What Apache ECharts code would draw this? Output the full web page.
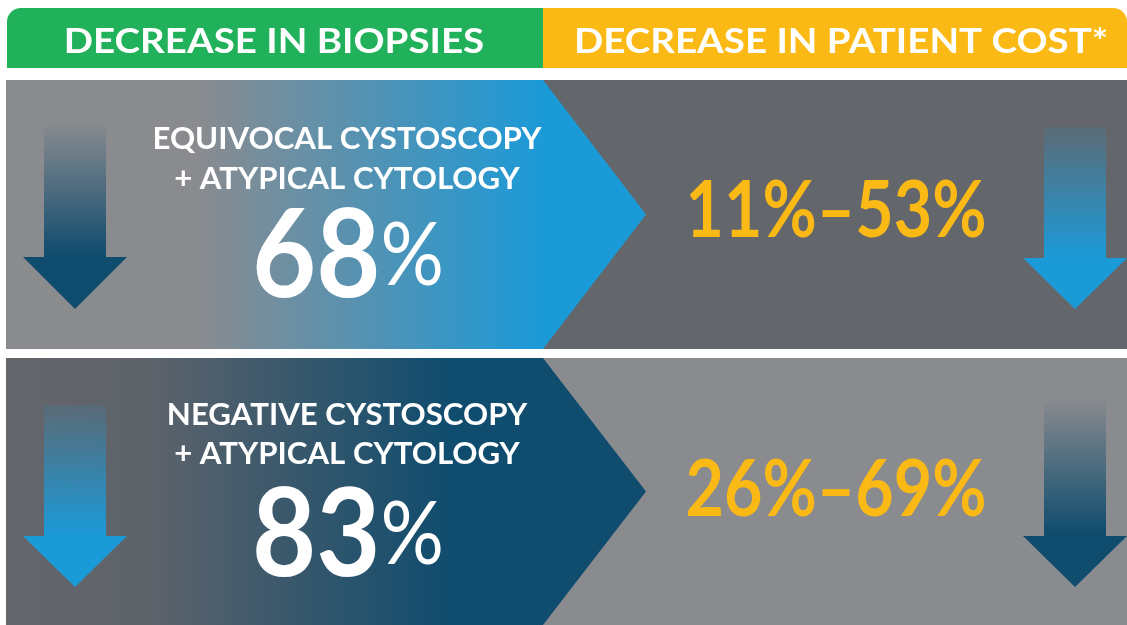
<!DOCTYPE html>
<html><head><meta charset="utf-8">
<script src="https://cdn.jsdelivr.net/npm/echarts@6/dist/echarts.min.js"></script>
<style>html,body{margin:0;padding:0;background:#fff}#c{width:1127px;height:625px}</style>
</head><body><div id="c"></div>
<script>
const headers = ['DECREASE IN BIOPSIES', 'DECREASE IN PATIENT COST*'];
const rowLine1 = ['EQUIVOCAL CYSTOSCOPY', 'NEGATIVE CYSTOSCOPY'];
const rowLine2 = ['+ ATYPICAL CYTOLOGY', '+ ATYPICAL CYTOLOGY'];
const biopsyDecrease = [68, 83];
const costLow = [11, 26];
const costHigh = [53, 69];

const FONT = 'Lato, "Open Sans", sans-serif';
const WHITE = '#ffffff', YELLOW = '#fbb916', GREEN = '#20b15a';
const NAVY = '#0f4c6e', BLUE = '#1b9ad8', LGRAY = '#8a8b8f', DGRAY = '#63666b';

function hgrad(stops){return {type:'linear',x:0,y:0,x2:1,y2:0,colorStops:stops.map(s=>({offset:s[0],color:s[1]}))};}
function vgrad(stops){return {type:'linear',x:0,y:0,x2:0,y2:1,colorStops:stops.map(s=>({offset:s[0],color:s[1]}))};}

function arrow(cx, top, headY, tip, color, topColor){
  return {type:'polygon', shape:{points:[[cx-31,top],[cx+31,top],[cx+31,headY],[cx+52,headY],[cx,tip],[cx-52,headY],[cx-31,headY]]},
    style:{fill: vgrad([[0,topColor],[0.72,color],[1,color]])}};
}

const rows = [
  {top:80, bot:349, leftFill:hgrad([[0,LGRAY],[0.3,LGRAY],[0.84,BLUE],[1,BLUE]]), rightBg:DGRAY,
   la:[75,122,257,309,NAVY,'rgba(15,76,110,0)'], ra:[1075,127,258,309,BLUE,'rgba(27,154,216,0.1)'],
   t1:139, t2:179, big:257, cost:212},
  {top:358, bot:625, leftFill:hgrad([[0,DGRAY],[0.22,'#5e636a'],[0.7,NAVY],[1,NAVY]]), rightBg:LGRAY,
   la:[75,405,536,587,BLUE,'rgba(27,154,216,0.1)'], ra:[1075,398,536,587,NAVY,'rgba(15,76,110,0)'],
   t1:415, t2:454, big:536, cost:491}
];

const elements = [];
elements.push({type:'rect', shape:{x:7,y:8,width:537,height:60,r:[14,0,0,0]}, style:{fill:GREEN}});
elements.push({type:'rect', shape:{x:543,y:8,width:584,height:60,r:[0,14,0,0]}, style:{fill:YELLOW}});
elements.push({type:'text', x:274, y:42, scaleX:1.1, style:{text:headers[0], fill:WHITE, font:'bold 35px '+FONT, align:'center', verticalAlign:'middle'}});
elements.push({type:'text', x:841, y:42, scaleX:1.1, style:{text:headers[1], fill:WHITE, font:'bold 35px '+FONT, align:'center', verticalAlign:'middle'}});

rows.forEach((r,i)=>{
  const mid = (r.top + r.bot)/2;
  elements.push({type:'rect', shape:{x:6,y:r.top,width:1121,height:r.bot-r.top}, style:{fill:r.rightBg}});
  elements.push({type:'polygon', shape:{points:[[6,r.top],[543,r.top],[646,mid],[543,r.bot],[6,r.bot]]}, style:{fill:r.leftFill}});
  elements.push(arrow(r.la[0],r.la[1],r.la[2],r.la[3],r.la[4],r.la[5]));
  elements.push(arrow(r.ra[0],r.ra[1],r.ra[2],r.ra[3],r.ra[4],r.ra[5]));
  elements.push({type:'text', x:347, y:r.t1, scaleX:1.04, style:{text:rowLine1[i], fill:WHITE, font:'bold 30px '+FONT, align:'center', verticalAlign:'middle'}});
  elements.push({type:'text', x:347, y:r.t2, scaleX:1.04, style:{text:rowLine2[i], fill:WHITE, font:'bold 30px '+FONT, align:'center', verticalAlign:'middle'}});
  elements.push({type:'text', x:348, y:r.big, scaleX:0.9, style:{text:'{a|'+biopsyDecrease[i]+'}{b|%}', align:'center', verticalAlign:'middle',
    rich:{a:{fill:WHITE, font:'bold 123px '+FONT}, b:{fill:WHITE, font:'normal 88px '+FONT}}}});
  elements.push({type:'text', x:836, y:r.cost, scaleX:0.85, style:{text:costLow[i]+'%\u2013'+costHigh[i]+'%', fill:YELLOW, font:'bold 78px '+FONT, align:'center', verticalAlign:'middle'}});
});

const chart = echarts.init(document.getElementById('c'));
chart.setOption({animation:false, graphic:{elements}});
</script></body></html>
